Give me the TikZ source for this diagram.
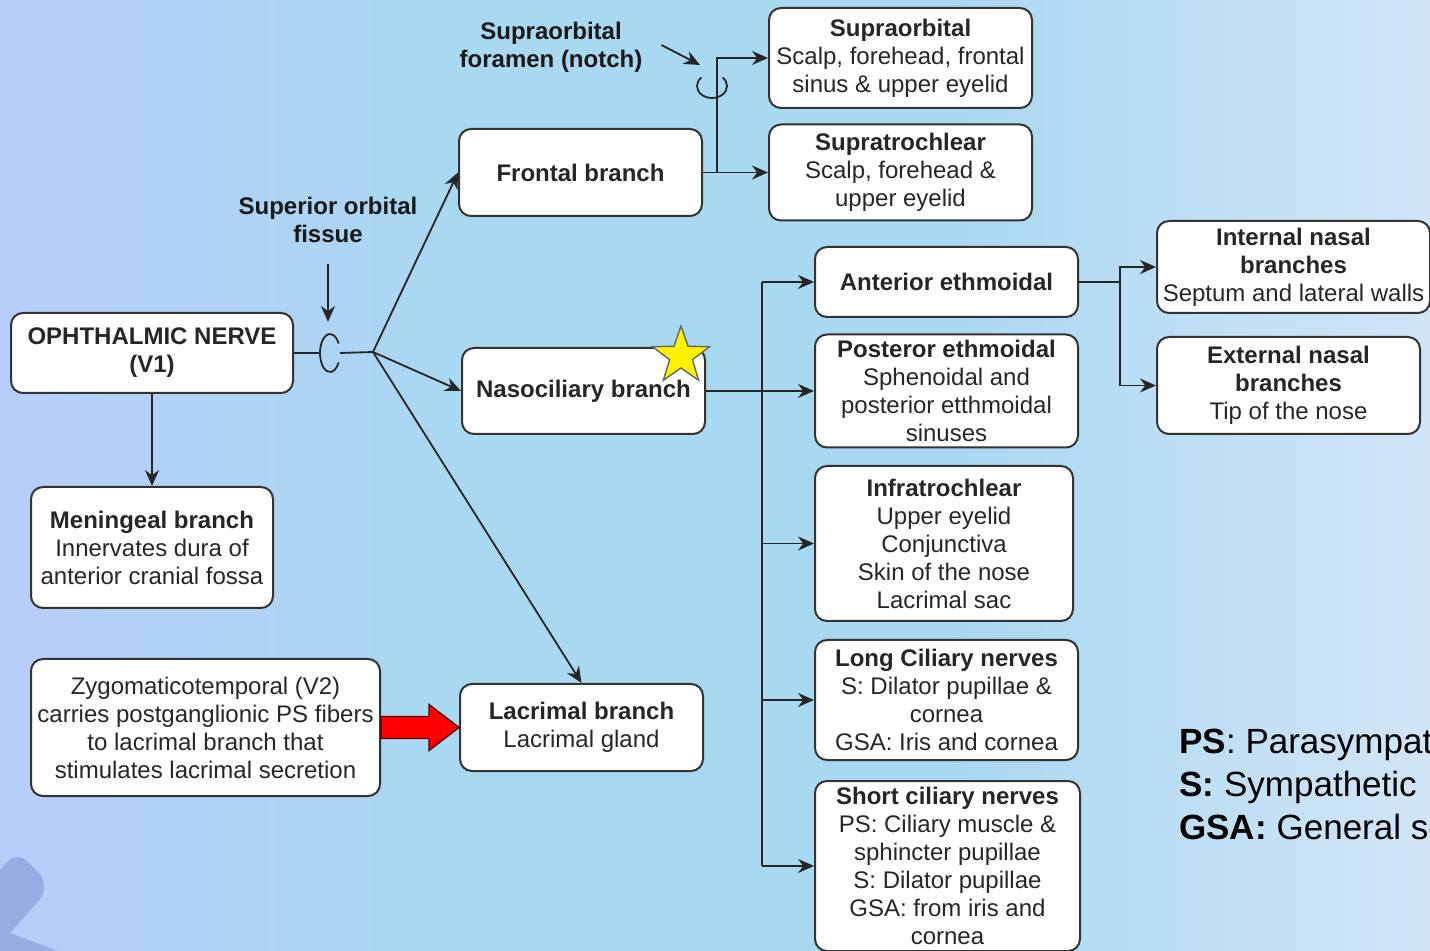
\documentclass[tikz,border=0pt]{standalone}
\usepackage{fontspec}
\setmainfont{Liberation Sans}
\usetikzlibrary{arrows.meta,calc,shapes.geometric}
\definecolor{bgL}{HTML}{B7CDF9}
\definecolor{bgM}{HTML}{A9D8F1}
\definecolor{bgR}{HTML}{D2E5F8}
\definecolor{deco}{HTML}{97AEE5}
\definecolor{boxline}{HTML}{333333}
\begin{document}
\begin{tikzpicture}[x=0.5pt,y=-0.5pt,
  box/.style={draw=boxline, line width=1pt, fill=white, rounded corners=6pt, align=center, inner sep=0pt, font=\fontsize{12}{14}\selectfont, text=black!85},
  lbl/.style={align=center, font=\fontsize{12}{14}\selectfont\bfseries, text=black!90},
  conn/.style={line width=0.9pt, draw=black!85},
  arr/.style={conn, -{Stealth[length=8pt,width=7pt]}},
]
\useasboundingbox (0,0) rectangle (1430,951);
\clip (0,0) rectangle (1430,951);
\shade[left color=bgL, right color=bgM] (0,0) rectangle (452,951);
\fill[bgM] (450,0) rectangle (952,951);
\shade[left color=bgM, right color=bgR] (950,0) rectangle (1430,951);
% decorative corner shape
\fill[deco] (0,870) -- (8,861) .. controls (14,855) and (22,856) .. (28,862) -- (38,872) .. controls (46,880) and (46,892) .. (40,899) -- (10,933) -- (58,951) -- (0,951) -- cycle;

% boxes
\node[box, minimum width=141pt, minimum height=40pt] (oph) at (152,353) {\textbf{OPHTHALMIC NERVE}\\\textbf{(V1)}};
\node[box, minimum width=121pt, minimum height=60.5pt] (men) at (152,547.5) {\textbf{Meningeal branch}\\Innervates dura of\\anterior cranial fossa};
\node[box, minimum width=174.5pt, minimum height=68.5pt] (zyg) at (205.5,727.5) {Zygomaticotemporal (V2)\\carries postganglionic PS fibers\\to lacrimal branch that\\stimulates lacrimal secretion};
\node[box, minimum width=121.5pt, minimum height=43.5pt] (lac) at (581.5,727.5) {\textbf{Lacrimal branch}\\Lacrimal gland};
\node[box, minimum width=121.5pt, minimum height=43.5pt] (fro) at (580.5,172.5) {\textbf{Frontal branch}};
\node[box, minimum width=121.5pt, minimum height=43pt] (nas) at (583.5,391) {\textbf{Nasociliary branch}};
\node[box, minimum width=131.5pt, minimum height=50pt] (sob) at (900.5,58) {\textbf{Supraorbital}\\Scalp, forehead, frontal\\sinus \& upper eyelid};
\node[box, minimum width=131.5pt, minimum height=48pt] (str) at (900.5,172.5) {\textbf{Supratrochlear}\\Scalp, forehead \&\\upper eyelid};
\node[box, minimum width=131.5pt, minimum height=35pt] (aet) at (946.5,282) {\textbf{Anterior ethmoidal}};
\node[box, minimum width=131.5pt, minimum height=56.5pt] (pet) at (946.5,391) {\textbf{Posteror ethmoidal}\\Sphenoidal and\\posterior etthmoidal\\sinuses};
\node[box, minimum width=129pt, minimum height=77.5pt] (inf) at (944,543.5) {\textbf{Infratrochlear}\\Upper eyelid\\Conjunctiva\\Skin of the nose\\Lacrimal sac};
\node[box, minimum width=131.5pt, minimum height=60pt] (lci) at (946.5,700) {\textbf{Long Ciliary nerves}\\S: Dilator pupillae \&\\cornea\\GSA: Iris and cornea};
\node[box, minimum width=132.5pt, minimum height=85pt] (sci) at (947.5,866) {\textbf{Short ciliary nerves}\\PS: Ciliary muscle \&\\sphincter pupillae\\S: Dilator pupillae\\GSA: from iris and\\cornea};
\node[box, minimum width=136.5pt, minimum height=46pt] (inn) at (1293.5,267) {\textbf{Internal nasal}\\\textbf{branches}\\Septum and lateral walls};
\node[box, minimum width=131.5pt, minimum height=48.5pt] (ext) at (1288.5,385.5) {\textbf{External nasal}\\\textbf{branches}\\Tip of the nose};

% star
\node[star, star points=5, star point ratio=2.5, minimum size=30pt, inner sep=0pt, fill=yellow, draw=black!60, line width=0.7pt] (star) at (681,356) {};

% labels
\node[lbl] (fis) at (328,220) {Superior orbital\\fissue};
\node[lbl] (sof) at (551,47) {Supraorbital\\foramen (notch)};

% legend
\node[anchor=west, align=left, inner sep=0pt, font=\fontsize{17.5}{21.5}\selectfont, text=black] (leg) at (1179,784)
  {\textbf{PS}: Parasympathetic\\\textbf{S:} Sympathetic\\\textbf{GSA:} General somatic afferent};

% coordinates
\coordinate (ell) at (330,353);
\coordinate (j) at (373,352);
\coordinate (loop) at (712,86);
\coordinate (bt) at (762,282);
\coordinate (bb) at (762,866);
\coordinate (nb) at (1120,282);

% ophthalmic trunk and fissure
\draw[conn] (oph.east) -- ($(ell)+(-10,0)$);
\draw[conn] ([shift={(30:5pt and 9.5pt)}]ell) arc[start angle=30, end angle=330, x radius=5pt, y radius=9.5pt];
\draw[conn] ($(ell)+(10,0)$) -- (j);
\draw[arr] ($(fis.south)+(0,14)$) -- ++(0,58);
\draw[arr] (j) -- (fro.west);
\draw[arr] (j) -- (nas.west);
\draw[arr] (j) -- (lac.north);
\draw[arr] (oph.south) -- (men.north);

% red block arrow
\filldraw[fill=red, draw=red!35!black, line width=0.7pt]
  ($(zyg.east)+(0,-11)$) -- ++(48,0) -- ++(0,-12) -- (lac.west) -- ($(zyg.east)+(48,23)$) -- ++(0,-12) -- ($(zyg.east)+(0,11)$) -- cycle;

% frontal branches
\draw[arr] (fro.east) -- (str.west);
\draw[arr] ($(fro.east)+(14,0)$) |- (sob.west);
\draw[conn] ([shift={(135:7.5pt and 6pt)}]loop) arc[start angle=135, end angle=405, x radius=7.5pt, y radius=6pt];
\draw[arr] ($(sof.east)+(12,-2)$) -- ($(loop)+(-12,-21)$);

% nasociliary branches
\draw[conn] (bt) -- (bb);
\draw[arr] (nas.east) -- (pet.west);
\draw[arr] (bt) -- (aet.west);
\draw[arr] (bt |- inf.west) -- (inf.west);
\draw[arr] (bt |- lci.west) -- (lci.west);
\draw[arr] (bb) -- (sci.west);

% nasal branches
\draw[conn] (aet.east) -- (nb);
\draw[arr] (nb) |- (inn.west);
\draw[arr] (nb) |- (ext.west);
\end{tikzpicture}
\end{document}
